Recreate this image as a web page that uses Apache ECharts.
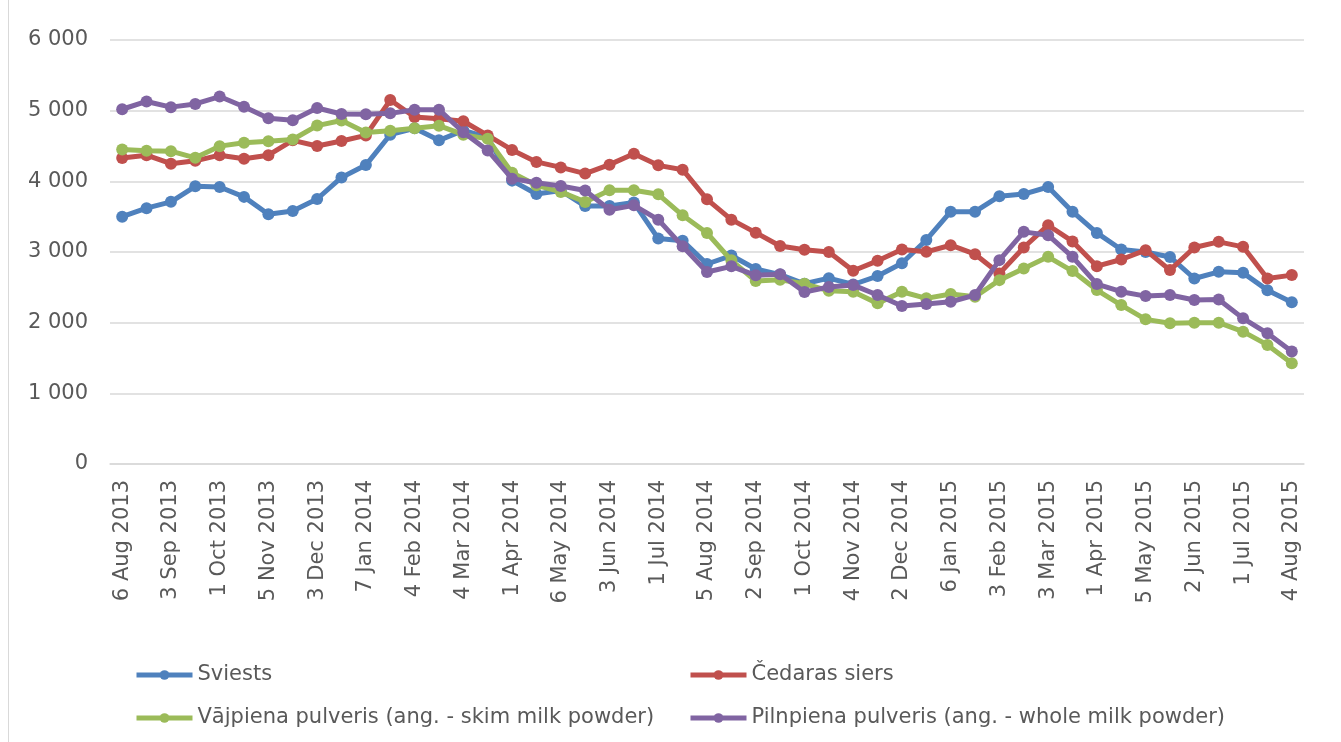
<!DOCTYPE html>
<html>
<head>
<meta charset="utf-8">
<script src="https://cdn.jsdelivr.net/npm/echarts@6/dist/echarts.min.js"></script>
<style>
html,body{margin:0;padding:0;background:#fff;}
#chart{width:1341px;height:742px;}
</style>
</head>
<body>
<div id="chart"></div>
<script>
const categories = [
  '6 Aug 2013','20 Aug 2013','3 Sep 2013','17 Sep 2013','1 Oct 2013','16 Oct 2013','5 Nov 2013','19 Nov 2013',
  '3 Dec 2013','17 Dec 2013','7 Jan 2014','21 Jan 2014','4 Feb 2014','18 Feb 2014','4 Mar 2014','18 Mar 2014',
  '1 Apr 2014','15 Apr 2014','6 May 2014','20 May 2014','3 Jun 2014','17 Jun 2014','1 Jul 2014','15 Jul 2014',
  '5 Aug 2014','19 Aug 2014','2 Sep 2014','16 Sep 2014','1 Oct 2014','15 Oct 2014','4 Nov 2014','18 Nov 2014',
  '2 Dec 2014','16 Dec 2014','6 Jan 2015','20 Jan 2015','3 Feb 2015','17 Feb 2015','3 Mar 2015','17 Mar 2015',
  '1 Apr 2015','21 Apr 2015','5 May 2015','19 May 2015','2 Jun 2015','16 Jun 2015','1 Jul 2015','15 Jul 2015',
  '4 Aug 2015'
];
const seriesNames = ['Sviests','Čedaras siers','Vājpiena pulveris (ang. - skim milk powder)','Pilnpiena pulveris (ang. - whole milk powder)'];
const sviests = [3500,3620,3710,3930,3920,3780,3535,3580,3750,4055,4230,4660,4750,4580,4720,4620,
  4010,3820,3870,3650,3650,3700,3190,3160,2830,2950,2760,2680,2550,2630,2540,2660,
  2840,3170,3570,3570,3790,3820,3920,3570,3270,3035,3000,2930,2625,2720,2705,2460,2290];
const cedaras = [4330,4370,4250,4290,4370,4320,4370,4580,4500,4570,4650,5150,4910,4885,4850,4650,
  4445,4275,4197,4110,4236,4390,4226,4165,3745,3458,3274,3085,3033,3000,2734,2875,
  3035,3002,3096,2969,2696,3064,3379,3150,2800,2894,3026,2744,3064,3144,3073,2626,2673];
const vajpiena = [4450,4432,4427,4333,4498,4545,4568,4592,4789,4860,4690,4716,4750,4788,4660,4601,
  4122,3944,3850,3709,3873,3873,3816,3519,3269,2882,2590,2608,2552,2450,2438,2273,
  2438,2344,2405,2367,2602,2767,2932,2730,2461,2249,2047,1991,2000,2000,1873,1685,1426];
const pilnpiena = [5020,5130,5050,5095,5200,5056,4892,4864,5038,4953,4948,4962,5014,5014,4694,4437,
  4038,3981,3934,3870,3599,3660,3458,3080,2717,2797,2670,2684,2434,2505,2532,2391,
  2235,2264,2296,2391,2885,3285,3238,2932,2546,2438,2376,2391,2320,2329,2061,1849,1591];
const yTicks = {min: 0, max: 6000, interval: 1000};

const colors = ['#4F81BD','#C0504D','#9BBB59','#8064A2'];
const values = [sviests, cedaras, vajpiena, pilnpiena];
const font = 'DejaVu Sans';
const textColor = '#595959';

const chart = echarts.init(document.getElementById('chart'), null, {renderer: 'canvas'});
const legendText = {fontFamily: font, fontSize: 21, color: textColor, lineHeight: 22};
const legendBase = {
  top: 664, orient: 'vertical', padding: 0, itemWidth: 56, itemHeight: 12, itemGap: 21,
  textStyle: legendText, lineStyle: {width: 5}
};
chart.setOption({
  animation: false,
  backgroundColor: '#ffffff',
  color: colors,
  graphic: [{
    type: 'line', shape: {x1: 8.5, y1: 0, x2: 8.5, y2: 742},
    style: {stroke: '#d9d9d9', lineWidth: 1}
  }],
  grid: {left: 110, right: 37, top: 40, bottom: 278, containLabel: false},
  legend: [
    Object.assign({left: 134, data: [seriesNames[0], seriesNames[2]]}, legendBase),
    Object.assign({left: 688, data: [seriesNames[1], seriesNames[3]]}, legendBase)
  ],
  xAxis: {
    type: 'category', data: categories, boundaryGap: true,
    axisTick: {show: false},
    axisLine: {lineStyle: {color: '#d9d9d9', width: 1.5}},
    axisLabel: {interval: 1, rotate: 90, margin: 16, fontFamily: font, fontSize: 21, color: textColor},
    splitLine: {show: false}
  },
  yAxis: {
    type: 'value', min: yTicks.min, max: yTicks.max, interval: yTicks.interval,
    axisLine: {show: false}, axisTick: {show: false},
    axisLabel: {
      margin: 22, fontFamily: font, fontSize: 21, color: textColor,
      formatter: v => String(v).replace(/\B(?=(\d{3})+(?!\d))/g, ' ')
    },
    splitLine: {lineStyle: {color: '#d9d9d9', width: 1.5}}
  },
  series: seriesNames.map((name, i) => ({
    name: name, type: 'line', data: values[i],
    symbol: 'circle', symbolSize: 12, showSymbol: true,
    lineStyle: {width: 5, color: colors[i]},
    itemStyle: {color: colors[i]},
    z: 2 + i
  }))
});
</script>
</body>
</html>
